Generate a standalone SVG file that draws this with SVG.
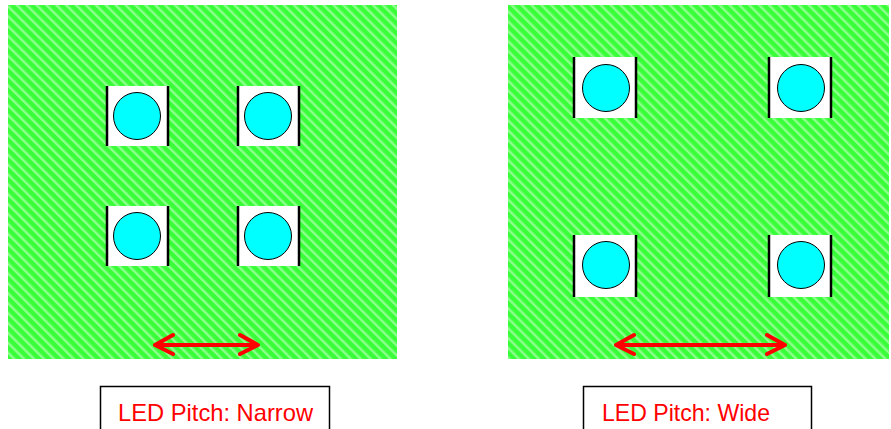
<svg xmlns="http://www.w3.org/2000/svg" width="891" height="429" viewBox="0 0 891 429">
<defs>
<pattern id="hatch" patternUnits="userSpaceOnUse" width="7" height="7" patternTransform="rotate(-45)">
<rect width="7" height="7" fill="#38ff38"/>
<rect x="0" y="0" width="2.5" height="7" fill="#8cff8c"/>
</pattern>
</defs>
<style>
.panel{fill:url(#hatch)}
.pad{fill:#ffffff}
.side{stroke:#000;stroke-width:2.5}
.led{fill:#00ffff;stroke:#000;stroke-width:1}
.arrow{stroke:#ff0000;stroke-width:4;stroke-linecap:round;stroke-linejoin:round;fill:none}
.box{fill:#fff;stroke:#000;stroke-width:1.5}
.lbl{font-family:"Liberation Sans",Arial,sans-serif;font-size:24px;fill:#ff0000}
</style>
<rect class="panel" x="8" y="5" width="389" height="354"/>
<rect class="panel" x="508" y="5" width="381" height="354"/>
<g id="led-narrow-1"><rect class="pad" x="106" y="86" width="63" height="60"/><line class="side" x1="107" y1="86" x2="107" y2="146"/><line class="side" x1="168" y1="86" x2="168" y2="146"/><circle class="led" cx="137" cy="116" r="23.5"/></g>
<g id="led-narrow-2"><rect class="pad" x="237" y="86" width="63" height="60"/><line class="side" x1="238" y1="86" x2="238" y2="146"/><line class="side" x1="299" y1="86" x2="299" y2="146"/><circle class="led" cx="268" cy="116" r="23.5"/></g>
<g id="led-narrow-3"><rect class="pad" x="106" y="206" width="63" height="60"/><line class="side" x1="107" y1="206" x2="107" y2="266"/><line class="side" x1="168" y1="206" x2="168" y2="266"/><circle class="led" cx="137" cy="236" r="23.5"/></g>
<g id="led-narrow-4"><rect class="pad" x="237" y="206" width="63" height="60"/><line class="side" x1="238" y1="206" x2="238" y2="266"/><line class="side" x1="299" y1="206" x2="299" y2="266"/><circle class="led" cx="268" cy="236" r="23.5"/></g>
<g id="led-wide-1"><rect class="pad" x="573" y="57" width="64" height="61"/><line class="side" x1="574" y1="57" x2="574" y2="118"/><line class="side" x1="636" y1="57" x2="636" y2="118"/><circle class="led" cx="606" cy="88" r="23.5"/></g>
<g id="led-wide-2"><rect class="pad" x="768" y="57" width="64" height="61"/><line class="side" x1="769" y1="57" x2="769" y2="118"/><line class="side" x1="831" y1="57" x2="831" y2="118"/><circle class="led" cx="801" cy="88" r="23.5"/></g>
<g id="led-wide-3"><rect class="pad" x="573" y="235" width="64" height="62"/><line class="side" x1="574" y1="235" x2="574" y2="297"/><line class="side" x1="636" y1="235" x2="636" y2="297"/><circle class="led" cx="606" cy="265" r="23.5"/></g>
<g id="led-wide-4"><rect class="pad" x="768" y="235" width="64" height="62"/><line class="side" x1="769" y1="235" x2="769" y2="297"/><line class="side" x1="831" y1="235" x2="831" y2="297"/><circle class="led" cx="801" cy="265" r="23.5"/></g>
<g id="connectors">
<path class="arrow" d="M155,345 H258 M173,335 L155,345 L173,354 M240,335 L258,345 L240,354"/>
<path class="arrow" d="M616,345 H785 M634,335 L616,345 L634,354 M767,335 L785,345 L767,354"/>
</g>
<g id="label-narrow"><rect class="box" x="100.5" y="386.5" width="229" height="45"/><text class="lbl" x="118" y="421" textLength="195" lengthAdjust="spacingAndGlyphs">LED Pitch: Narrow</text></g>
<g id="label-wide"><rect class="box" x="583.5" y="386.5" width="228" height="45"/><text class="lbl" x="602" y="421" textLength="168" lengthAdjust="spacingAndGlyphs">LED Pitch: Wide</text></g>
</svg>
